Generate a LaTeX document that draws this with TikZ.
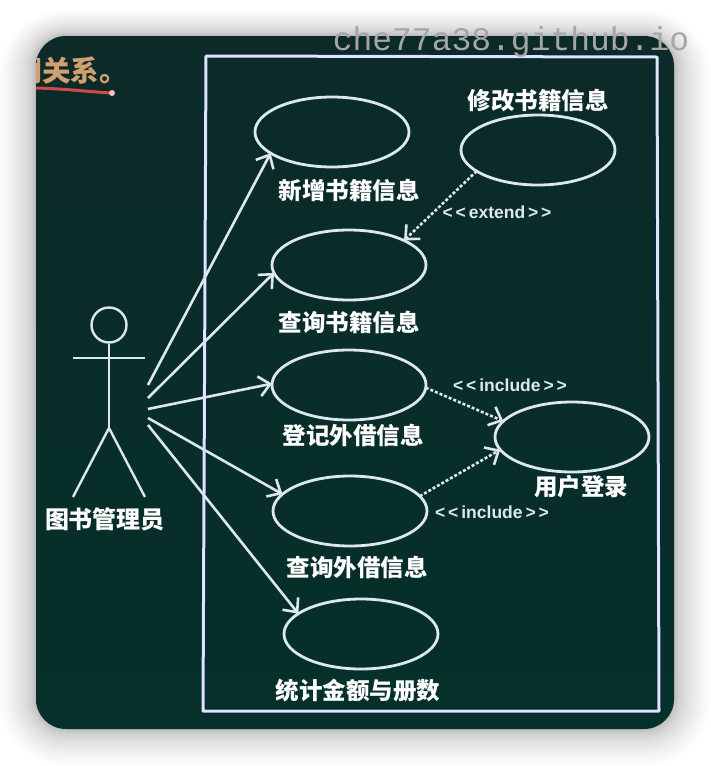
\documentclass[tikz,border=0pt]{standalone}
\usepackage{fontspec}
\usepackage{tikz}
\usetikzlibrary{arrows.meta,positioning,shapes.geometric}
\setmainfont{Noto Sans CJK SC}
\newfontfamily\markfont{Liberation Mono}
\newfontfamily\tagfont{Liberation Sans}
\definecolor{boardtop}{HTML}{0C2A28}
\definecolor{boardlow}{HTML}{06302A}
\definecolor{chalk}{HTML}{DCE8EE}
\definecolor{halo}{HTML}{0A1E48}
\definecolor{headtext}{HTML}{D0A070}
\definecolor{headline}{HTML}{D04A48}
\begin{document}
\begin{tikzpicture}[x=1pt, y=-1pt, line join=round,
  usecase/.style={ellipse, draw=chalk, line width=2.8pt, minimum width=154pt, minimum height=70pt, inner sep=0pt, outer sep=0pt},
  title/.style={font=\bfseries\fontsize{23.5}{24}\selectfont, text=white, inner sep=0pt},
  tag/.style={font=\tagfont\bfseries\fontsize{17.5}{18}\selectfont, text=chalk, inner sep=0pt},
  assoc/.style={-{Straight Barb[length=11pt,width=20pt]}, draw=chalk, line width=2.6pt},
  depend/.style={-{Straight Barb[length=11pt,width=20pt]}, draw=chalk, line width=2.6pt, dash pattern=on 3pt off 2pt},
  body/.style={draw=chalk, line width=2.4pt}]
  \useasboundingbox (0,0) rectangle (710,766);
  \fill[white] (0,0) rectangle (710,766);
  % soft shadow round the board
  \foreach \i [evaluate=\i as \s using \i*\i/9] in {1,...,18}
    \fill[black, opacity=0.017, rounded corners=30pt+\s*1pt] (36-\s,36-\s*0.7) rectangle (674+\s,729+\s);
  \shade[top color=boardtop, bottom color=boardlow, rounded corners=30pt] (36,36) rectangle (674,729);
  \begin{scope}
    \clip[rounded corners=30pt] (36,36) rectangle (674,729);
    \node[font=\bfseries\fontsize{28.5}{29}\selectfont, text=headtext, inner sep=0pt, anchor=east] (heading) at (128,71) {间关系。};
    \coordinate (lineend) at (112,93);
    \draw[headline, line width=3pt] (30,88) .. controls (60,88) and (90,92) .. (lineend);
    \fill[pink] (lineend) circle (3pt);
  \end{scope}
  % system boundary
  \draw[halo, line width=5pt] (206,56) -- (657,57) -- (659,711) -- (203,711) -- cycle;
  \draw[chalk, line width=3pt] (206,56) -- (657,57) -- (659,711) -- (203,711) -- cycle;
  % actor
  \node[circle, draw=chalk, line width=2.4pt, minimum size=35pt, inner sep=0pt] (head) at (109,325) {};
  \coordinate (hip) at (109,428);
  \coordinate (lefthand) at (73,358);
  \coordinate (righthand) at (145,358);
  \coordinate (leftfoot) at (73,497);
  \coordinate (rightfoot) at (145,497);
  \draw[body] (head) -- (hip);
  \draw[body] (lefthand) -- (righthand);
  \draw[body] (leftfoot) -- (hip) -- (rightfoot);
  \node[title, font=\bfseries\fontsize{24}{25}\selectfont] (actor) at (105,519) {图书管理员};
  % use cases
  \node[usecase] (add) at (332,132) {};
  \node[usecase] (query) at (349,265) {};
  \node[usecase] (register) at (349,385) {};
  \node[usecase] (lend) at (350,511) {};
  \node[usecase] (stat) at (361,634) {};
  \node[usecase] (modify) at (538,150) {};
  \node[usecase] (login) at (572,437) {};
  \node[title, below=12pt of add, xshift=17pt] (addlabel) {新增书籍信息};
  \node[title, below=11pt of query] (querylabel) {查询书籍信息};
  \node[title, below=4pt of register, xshift=4pt] (registerlabel) {登记外借信息};
  \node[title, below=10pt of lend, xshift=7pt] (lendlabel) {查询外借信息};
  \node[title, below=10pt of stat, xshift=-3pt] (statlabel) {统计金额与册数};
  \node[title, above=3pt of modify] (modifylabel) {修改书籍信息};
  \node[title, below=3pt of login, xshift=9pt] (loginlabel) {用户登录};
  % actor links
  \coordinate (a1) at (148,385);
  \coordinate (a2) at (148,398);
  \coordinate (a3) at (148,409);
  \coordinate (a4) at (148,418);
  \coordinate (a5) at (148,425);
  \draw[assoc] (a1) -- (add.199);
  \draw[assoc] (a2) -- (query.186);
  \draw[assoc] (a3) -- (register.179);
  \draw[assoc] (a4) -- (lend.166);
  \draw[assoc] (a5) -- (stat.162);
  % extend and include
  \draw[depend] (modify.199) -- (query.24);
  \draw[depend] (register.358) -- (login.167);
  \draw[depend] (lend.12) -- (login.190);
  \node[tag] (extendtag) at (497,212) {{<}\,{<}\,extend\,{>}\,{>}};
  \node[tag] (includetop) at (510,385) {{<}\,{<}\,include\,{>}\,{>}};
  \node[tag] (includelow) at (492,512) {{<}\,{<}\,include\,{>}\,{>}};
  % site mark
  \node[font=\markfont\fontsize{33}{34}\selectfont, text=black!35, inner sep=0pt] (sitemark) at (511,42) {che77a38.github.io};
\end{tikzpicture}
\end{document}
